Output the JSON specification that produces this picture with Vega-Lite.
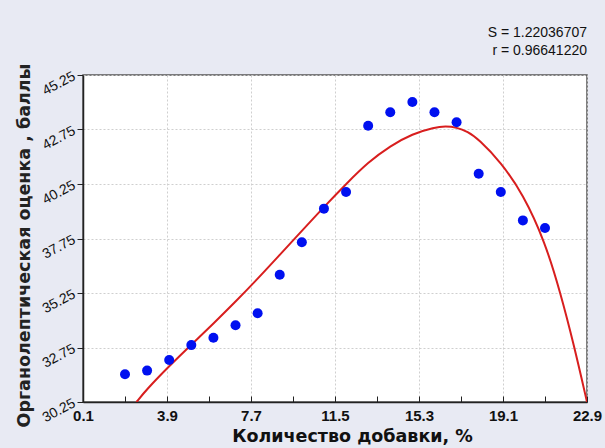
{
  "$schema": "https://vega.github.io/schema/vega-lite/v6.json",
  "width": 504,
  "height": 327,
  "autosize": {"type": "none"},
  "padding": {"left": 83, "top": 75, "right": 18, "bottom": 46},
  "background": "#E8EAF3",
  "title": {
    "text": "S = 1.22036707",
    "subtitle": "r = 0.96641220",
    "anchor": "end",
    "frame": "group",
    "orient": "top",
    "font": "Liberation Sans",
    "fontSize": 14,
    "fontWeight": "normal",
    "color": "#111",
    "subtitleFont": "Liberation Sans",
    "subtitleFontSize": 14,
    "subtitleColor": "#111",
    "subtitlePadding": 4,
    "offset": 5
  },
  "config": {
    "view": {"fill": "white", "stroke": "#555", "strokeWidth": 1.5},
    "axis": {"labelFont": "Liberation Sans", "titleFont": "DejaVu Sans"}
  },
  "datasets": {
    "obs": [
      {"x": 2, "y": 31.52}, {"x": 3, "y": 31.69}, {"x": 4, "y": 32.18}, {"x": 5, "y": 32.86},
      {"x": 6, "y": 33.2}, {"x": 7, "y": 33.77}, {"x": 8, "y": 34.32}, {"x": 9, "y": 36.09},
      {"x": 10, "y": 37.58}, {"x": 11, "y": 39.12}, {"x": 12, "y": 39.88}, {"x": 13, "y": 42.92},
      {"x": 14, "y": 43.54}, {"x": 15, "y": 44.01}, {"x": 16, "y": 43.54}, {"x": 17, "y": 43.08},
      {"x": 18, "y": 40.72}, {"x": 19, "y": 39.88}, {"x": 20, "y": 38.58}, {"x": 21, "y": 38.23}
    ],
    "curve": [
      {"x": 2.52, "y": 30.25}, {"x": 3.0, "y": 30.85}, {"x": 4.0, "y": 31.9}, {"x": 5.0, "y": 32.88},
      {"x": 6.0, "y": 33.85}, {"x": 7.0, "y": 34.85}, {"x": 8.0, "y": 35.9}, {"x": 9.0, "y": 37.0},
      {"x": 10.0, "y": 38.1}, {"x": 11.0, "y": 39.2}, {"x": 12.0, "y": 40.25}, {"x": 13.0, "y": 41.25},
      {"x": 14.0, "y": 42.0}, {"x": 15.0, "y": 42.55}, {"x": 16.0, "y": 42.85}, {"x": 16.5, "y": 42.9},
      {"x": 17.0, "y": 42.85}, {"x": 17.5, "y": 42.65}, {"x": 18.0, "y": 42.3}, {"x": 19.0, "y": 41.25},
      {"x": 20.0, "y": 39.8}, {"x": 21.0, "y": 37.6}, {"x": 21.7, "y": 35.25}, {"x": 22.3, "y": 32.9},
      {"x": 22.9, "y": 30.25}
    ]
  },
  "layer": [
    {
      "data": {"name": "curve"},
      "mark": {"type": "line", "color": "#D81E1E", "strokeWidth": 2, "interpolate": "basis", "clip": true},
      "encoding": {
        "x": {
          "field": "x", "type": "quantitative",
          "scale": {"domain": [0.1, 22.9], "nice": false, "zero": false},
          "axis": {
            "title": "Количество добавки, %",
            "titleFontSize": 17.5, "titleFontWeight": "bold", "titleColor": "#111", "titlePadding": 4,
            "titleX": 269,
            "values": [0.1, 1.05, 2.0, 2.95, 3.9, 4.85, 5.8, 6.75, 7.7, 8.65, 9.6, 10.55, 11.5, 12.45, 13.4, 14.35, 15.3, 16.25, 17.2, 18.15, 19.1, 20.05, 21.0, 21.95, 22.9],
            "labelExpr": "abs((datum.value-0.1)/3.8 - round((datum.value-0.1)/3.8)) < 0.01 ? format(datum.value, '.1f') : ''",
            "labelFontSize": 15, "labelFontWeight": "bold", "labelColor": "#111", "labelPadding": 12,
            "labelFlush": false, "labelOverlap": false,
            "domainColor": "#222", "domainWidth": 1.5,
            "tickColor": "#222", "tickWidth": 1, "tickSize": -6,
            "grid": true,
            "gridColor": "#cfcfcf", "gridDash": [2, 2],
            "gridOpacity": {"condition": {"test": "abs((datum.value-0.1)/3.8 - round((datum.value-0.1)/3.8)) < 0.01", "value": 1}, "value": 0}
          }
        },
        "y": {
          "field": "y", "type": "quantitative",
          "scale": {"domain": [30.25, 45.25], "nice": false, "zero": false},
          "axis": {
            "title": "Органолептическая оценка , баллы",
            "titleFontSize": 17.5, "titleFontWeight": "bold", "titleColor": "#222", "titlePadding": 6,
            "titleY": 170,
            "values": [30.25, 30.875, 31.5, 32.125, 32.75, 33.375, 34.0, 34.625, 35.25, 35.875, 36.5, 37.125, 37.75, 38.375, 39.0, 39.625, 40.25, 40.875, 41.5, 42.125, 42.75, 43.375, 44.0, 44.625, 45.25],
            "labelExpr": "abs((datum.value-30.25)/2.5 - round((datum.value-30.25)/2.5)) < 0.01 ? format(datum.value, '.2f') : ''",
            "labelFontSize": 14, "labelColor": "#111", "labelAngle": -28, "labelPadding": 3,
            "labelFlush": false, "labelOverlap": false, "labelBaseline": "middle",
            "domainColor": "#222", "domainWidth": 1.5,
            "tickColor": "#222", "tickWidth": 1, "tickSize": 6,
            "grid": true,
            "gridColor": "#cfcfcf", "gridDash": [2, 2],
            "gridOpacity": {"condition": {"test": "abs((datum.value-30.25)/2.5 - round((datum.value-30.25)/2.5)) < 0.01", "value": 1}, "value": 0}
          }
        }
      }
    },
    {
      "data": {"name": "obs"},
      "mark": {"type": "point", "shape": "circle", "filled": true, "color": "#0010F0", "opacity": 1, "size": 100},
      "encoding": {
        "x": {"field": "x", "type": "quantitative"},
        "y": {"field": "y", "type": "quantitative"}
      }
    }
  ]
}
